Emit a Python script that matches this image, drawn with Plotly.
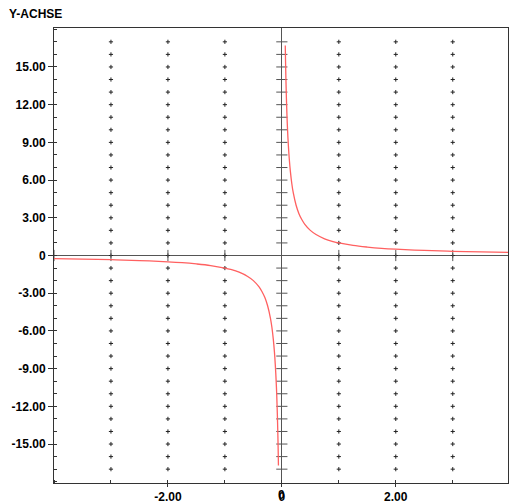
import plotly.graph_objects as go

# Right branch of the curve (x > 0)
x_pos = [0.06, 0.065, 0.07, 0.08, 0.09, 0.1, 0.115, 0.13, 0.15, 0.175, 0.2, 0.25, 0.3, 0.35, 0.4,
         0.5, 0.6, 0.75, 0.9, 1.0, 1.25, 1.5, 1.75, 2.0, 2.5, 3.0, 3.5, 4.0]
y_pos = [16.7, 15.4, 14.3, 12.5, 11.1, 10.0, 8.7, 7.7, 6.67, 5.71, 5.0, 4.0, 3.33, 2.86, 2.5,
         2.0, 1.67, 1.33, 1.11, 1.0, 0.8, 0.67, 0.57, 0.5, 0.4, 0.33, 0.29, 0.25]

# Left branch of the curve (x < 0)
x_neg = [-4.0, -3.5, -3.0, -2.5, -2.0, -1.75, -1.5, -1.25, -1.0, -0.9, -0.75, -0.6, -0.5, -0.4,
         -0.35, -0.3, -0.25, -0.2, -0.175, -0.15, -0.13, -0.115, -0.1, -0.09, -0.08, -0.07, -0.065, -0.06]
y_neg = [-0.25, -0.29, -0.33, -0.4, -0.5, -0.57, -0.67, -0.8, -1.0, -1.11, -1.33, -1.67, -2.0, -2.5,
         -2.86, -3.33, -4.0, -5.0, -5.71, -6.67, -7.7, -8.7, -10.0, -11.1, -12.5, -14.3, -15.4, -16.7]

# Axis ticks and grid positions
grid_x = [-3, -2, -1, 1, 2, 3]
grid_y = list(range(-17, 18))
x_ticks = [-2, 0, 2]
x_labels = ["-2.00", "0", "2.00"]
y_ticks = [-15, -12, -9, -6, -3, 0, 3, 6, 9, 12, 15]
y_labels = ["-15.00", "-12.00", "-9.00", "-6.00", "-3.00", "0",
            "3.00", "6.00", "9.00", "12.00", "15.00"]
x_unit = [-4, -3, -2, -1, 1, 2, 3]

fig = go.Figure()

# dotted grid made of tiny crosses
gx = [x for x in grid_x for _ in grid_y]
gy = [y for _ in grid_x for y in grid_y]
fig.add_trace(go.Scatter(x=gx, y=gy, mode="markers", hoverinfo="skip",
                         marker=dict(symbol="cross-thin", size=3,
                                     line=dict(width=1, color="#222222"))))

# tick marks along the zero lines
fig.add_trace(go.Scatter(x=[0] * len(grid_y), y=grid_y, mode="markers", hoverinfo="skip",
                         marker=dict(symbol="line-ew", size=8,
                                     line=dict(width=1, color="#555555"))))
fig.add_trace(go.Scatter(x=x_unit, y=[0] * len(x_unit), mode="markers", hoverinfo="skip",
                         marker=dict(symbol="line-ns", size=8,
                                     line=dict(width=1, color="#555555"))))

line_style = dict(color="#ff6060", width=1.3)
fig.add_trace(go.Scatter(x=x_pos, y=y_pos, mode="lines", line=line_style, line_shape="spline"))
fig.add_trace(go.Scatter(x=x_neg, y=y_neg, mode="lines", line=line_style, line_shape="spline"))

tick_font = dict(family="Liberation Sans, Arial, sans-serif", size=12, color="black", weight="bold")

annotations = [dict(text="Y-ACHSE", xref="paper", yref="paper",
                    x=-0.1035, y=1.0307, xanchor="left", yanchor="middle",
                    showarrow=False, font=tick_font)]
# origin label on the x axis, written again as an annotation so it always shows
for v, t in zip(x_ticks, x_labels):
    if v == 0:
        annotations.append(dict(text=t, xref="x", yref="paper", x=v, y=0,
                                xanchor="center", yanchor="top", yshift=-3,
                                showarrow=False, font=tick_font))

fig.update_layout(
    width=510, height=504,
    margin=dict(l=54, r=2, t=28, b=21, autoexpand=False),
    paper_bgcolor="white", plot_bgcolor="white",
    showlegend=False,
    xaxis=dict(range=[-4.0, 3.97], showgrid=False, automargin=False,
               zeroline=True, zerolinecolor="#555555", zerolinewidth=1,
               showline=True, linecolor="#333333", linewidth=1, mirror=True,
               tickvals=x_ticks, ticktext=x_labels, ticks="outside", ticklen=3,
               tickcolor="#333333", tickfont=tick_font,
               minor=dict(dtick=1, tick0=0, ticks="inside", ticklen=3, tickcolor="#333333")),
    yaxis=dict(range=[-18.1, 18.1], showgrid=False, automargin=False,
               zeroline=True, zerolinecolor="#555555", zerolinewidth=1,
               showline=True, linecolor="#333333", linewidth=1, mirror=True,
               tickvals=y_ticks, ticktext=y_labels, ticks="outside", ticklen=5,
               tickcolor="#333333", tickfont=tick_font,
               minor=dict(dtick=1, tick0=0, ticks="inside", ticklen=3, tickcolor="#333333")),
    annotations=annotations,
)

fig.write_html("out.html")
